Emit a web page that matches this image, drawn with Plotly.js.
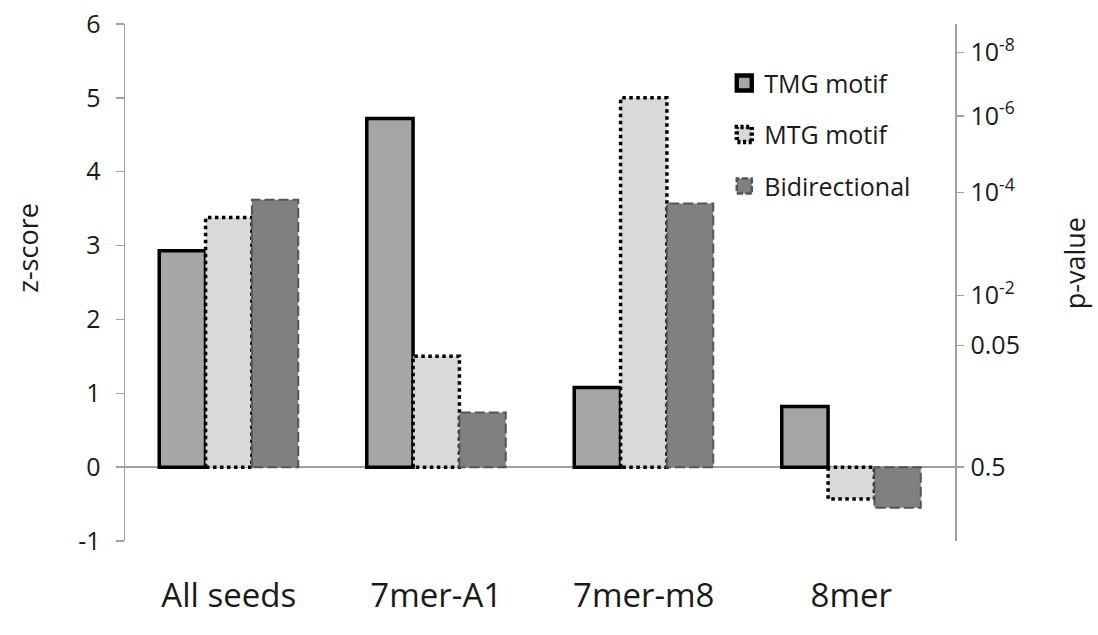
<!DOCTYPE html>
<html>
<head>
<meta charset="utf-8">
<script src="https://cdn.plot.ly/plotly-3.0.1.min.js"></script>
<style>
  html, body { margin: 0; padding: 0; background: #fff; }
  #chart { width: 1098px; height: 635px; }
</style>
</head>
<body>
<div id="chart"></div>
<script>
// Seed categories and z-scores per motif orientation
const categories = ['All seeds', '7mer-A1', '7mer-m8', '8mer'];
const tmgMotif = [2.93, 4.72, 1.08, 0.82];
const mtgMotif = [3.38, 1.50, 5.00, -0.43];
const bidirectional = [3.62, 0.74, 3.57, -0.55];

// Left-axis z-score ticks
const zTicks = [-1, 0, 1, 2, 3, 4, 5, 6];
const zLabels = ['-1', '0', '1', '2', '3', '4', '5', '6'];

// Right-axis p-value labels (one-sided normal tail)
const pValues = [0.5, 0.05, 1e-2, 1e-4, 1e-6, 1e-8];
const pLabels = ['0.5', '0.05', '10<sup>-2</sup>', '10<sup>-4</sup>', '10<sup>-6</sup>', '10<sup>-8</sup>'];

// Inverse standard normal CDF (Acklam's rational approximation)
function normInv(p) {
  const a = [-3.969683028665376e+01, 2.209460984245205e+02, -2.759285104469687e+02,
             1.383577518672690e+02, -3.066479806614716e+01, 2.506628277459239e+00];
  const b = [-5.447609879822406e+01, 1.615858368580409e+02, -1.556989798598866e+02,
             6.680131188771670e+01, -1.328068155288572e+01];
  const c = [-7.784894002430293e-03, -3.223964580411365e-01, -2.400758277161838e+00,
             -2.549732539343734e+00, 4.374664141464968e+00, 2.938163982698783e+00];
  const d = [7.784695709041462e-03, 3.224671290700398e-01, 2.445134137142996e+00,
             3.754408661907416e+00];
  const pl = 0.02425, ph = 1 - pl;
  let q, r;
  if (p < pl) {
    q = Math.sqrt(-2 * Math.log(p));
    return (((((c[0]*q+c[1])*q+c[2])*q+c[3])*q+c[4])*q+c[5]) /
           ((((d[0]*q+d[1])*q+d[2])*q+d[3])*q+1);
  } else if (p <= ph) {
    q = p - 0.5; r = q * q;
    return (((((a[0]*r+a[1])*r+a[2])*r+a[3])*r+a[4])*r+a[5])*q /
           (((((b[0]*r+b[1])*r+b[2])*r+b[3])*r+b[4])*r+1);
  } else {
    q = Math.sqrt(-2 * Math.log(1 - p));
    return -(((((c[0]*q+c[1])*q+c[2])*q+c[3])*q+c[4])*q+c[5]) /
            ((((d[0]*q+d[1])*q+d[2])*q+d[3])*q+1);
  }
}
const pTickZ = pValues.map(p => -normInv(p));

const FONT = '"Open Sans", "DejaVu Sans", sans-serif';
const TEXT = '#1a1a1a';
const AXIS_GREY = '#a0a0a0';

const series = [
  { name: 'TMG motif', y: tmgMotif, fill: '#a6a6a6', line: '#000000', width: 3.5, dash: null, legendDash: null },
  { name: 'MTG motif', y: mtgMotif, fill: '#d9d9d9', line: '#000000', width: 3.5, dash: '3.5,3.5', legendDash: '2.5,2' },
  { name: 'Bidirectional', y: bidirectional, fill: '#808080', line: '#555555', width: 2, dash: '10,4', legendDash: '5,2' }
];

const traces = series.map((s, i) => ({
  type: 'bar',
  name: s.name,
  x: categories,
  y: s.y,
  legendgroup: 'g' + i,
  marker: { color: s.fill, line: { color: s.line, width: s.width } },
  hoverinfo: 'x+y+name'
}));

// Invisible trace that carries the right-hand p-value axis
traces.push({
  type: 'scatter', x: categories, y: [null, null, null, null],
  yaxis: 'y2', showlegend: false, hoverinfo: 'skip'
});

const layout = {
  width: 1098,
  height: 635,
  margin: { l: 125, r: 143, t: 24, b: 94 },
  paper_bgcolor: '#ffffff',
  plot_bgcolor: '#ffffff',
  font: { family: FONT, color: TEXT, size: 25 },
  barmode: 'group',
  bargap: 0.33,
  bargroupgap: 0,
  showlegend: true,
  legend: {
    x: 0.722, y: 0.93, xanchor: 'left', yanchor: 'top',
    bgcolor: 'rgba(0,0,0,0)',
    font: { family: FONT, size: 25, color: TEXT },
    tracegroupgap: 16,
    itemwidth: 30
  },
  xaxis: {
    type: 'category',
    showline: false,
    showgrid: false,
    zeroline: false,
    ticks: '',
    tickfont: { family: FONT, size: 33, color: TEXT },
    ticklabelstandoff: 32
  },
  yaxis: {
    range: [-1, 6],
    tickmode: 'array',
    tickvals: zTicks,
    ticktext: zLabels,
    showgrid: false,
    zeroline: true,
    zerolinecolor: AXIS_GREY,
    zerolinewidth: 1.5,
    showline: true,
    linecolor: AXIS_GREY,
    linewidth: 1.5,
    ticks: 'outside',
    ticklen: 8,
    tickwidth: 1.5,
    tickcolor: AXIS_GREY,
    ticklabelstandoff: 10,
    tickfont: { family: FONT, size: 25, color: TEXT }
  },
  yaxis2: {
    overlaying: 'y',
    side: 'right',
    range: [-1, 6],
    tickmode: 'array',
    tickvals: pTickZ,
    ticktext: pLabels,
    showgrid: false,
    zeroline: false,
    showline: true,
    linecolor: AXIS_GREY,
    linewidth: 1.5,
    ticks: 'outside',
    ticklen: 7,
    tickwidth: 1.5,
    tickcolor: AXIS_GREY,
    ticklabelstandoff: 2,
    tickfont: { family: FONT, size: 25, color: TEXT }
  },
  annotations: [
    { text: 'z-score', xref: 'paper', yref: 'paper', x: -0.117, y: 0.567,
      xanchor: 'center', yanchor: 'middle', textangle: -90, showarrow: false,
      font: { family: FONT, size: 27, color: TEXT } },
    { text: 'p-value', xref: 'paper', yref: 'paper', x: 1.145, y: 0.538,
      xanchor: 'center', yanchor: 'middle', textangle: -90, showarrow: false,
      font: { family: FONT, size: 27, color: TEXT } }
  ]
};

Plotly.newPlot('chart', traces, layout, { displayModeBar: false, staticPlot: true }).then(gd => {
  // Dotted / dashed bar outlines, applied to bars and legend swatches
  gd.querySelectorAll('.barlayer .trace').forEach((t, i) => {
    if (!series[i] || !series[i].dash) return;
    t.querySelectorAll('path').forEach(p => { p.style.strokeDasharray = series[i].dash; });
  });
  gd.querySelectorAll('.legend .traces').forEach((t, i) => {
    t.querySelectorAll('.legendpoints path').forEach(p => {
      const tr = p.getAttribute('transform') || '';
      p.setAttribute('transform', (tr + ' scale(1.25)').trim());
      if (series[i] && series[i].legendDash) p.style.strokeDasharray = series[i].legendDash;
    });
  });
});
</script>
</body>
</html>
